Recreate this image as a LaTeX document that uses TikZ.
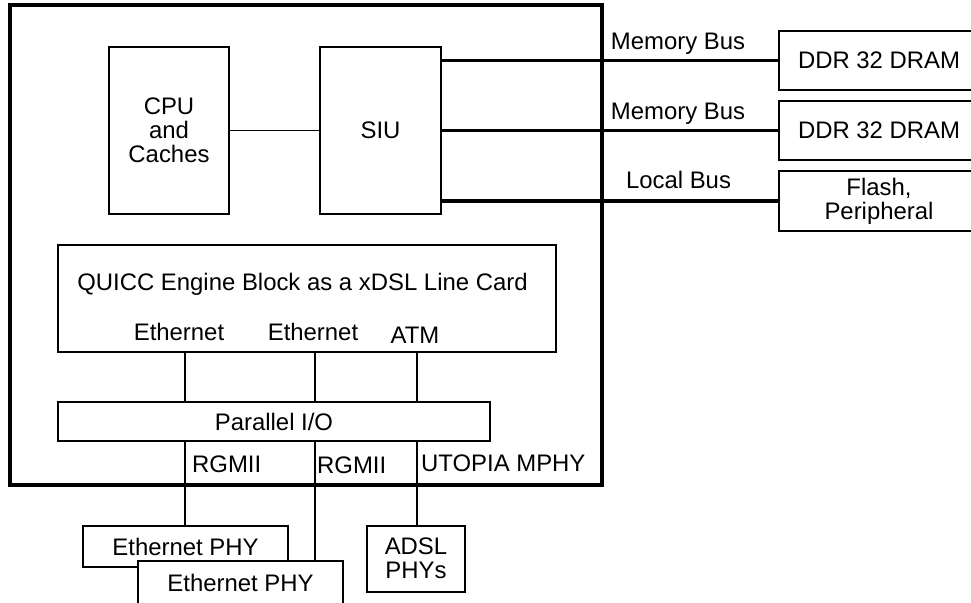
\documentclass[tikz,border=0pt]{standalone}
\usepackage{fontspec}
\setmainfont{Liberation Sans}
\begin{document}
\begin{tikzpicture}[x=1pt,y=-1pt,
  every node/.style={font=\fontsize{23.9}{24}\selectfont, inner sep=0pt},
  blk/.style={draw, line width=1.6pt, rectangle, fill=white, align=center},
  thinline/.style={line width=1.6pt},
  bus/.style={line width=3.2pt},
  lbl/.style={anchor=base},
  lblw/.style={anchor=base west}
]
\useasboundingbox (0,0) rectangle (971,602);
\fill[white] (0,0) rectangle (971,602);
\clip (0,0) rectangle (971,602);

% outer chip box
\node[draw, line width=3.2pt, minimum width=592pt, minimum height=480pt] (outer) at (306,245) {};

% blocks
\node[blk, minimum width=120pt, minimum height=167pt] (cpu) at (169,130.5) {CPU\\and\\Caches};
\node[blk, minimum width=121pt, minimum height=167pt] (siu) at (380.5,130.5) {SIU};
\node[blk, minimum width=498pt, minimum height=107pt] (qe) at (307,298.5) {};
\node[blk, minimum width=432pt, minimum height=39.5pt] (pio) at (274,421.5) {Parallel I/O};
\node[blk, minimum width=200pt, minimum height=59pt] (ddr1) at (879,60.5) {DDR 32 DRAM};
\node[blk, minimum width=200pt, minimum height=59pt] (ddr2) at (879,130.5) {DDR 32 DRAM};
\node[blk, minimum width=200pt, minimum height=60pt] (flash) at (879,201) {Flash,\\Peripheral};
\node[blk, minimum width=205pt, minimum height=41pt] (eph1) at (185.5,546.5) {Ethernet PHY};
\node[blk, minimum width=205pt, minimum height=44pt] (eph2) at (240.5,583) {Ethernet PHY};
\node[blk, minimum width=98pt, minimum height=66pt] (adsl) at (416,558.7) {ADSL\\PHYs};

% texts in QUICC Engine block
\node[lbl] (qetitle) at (302.5,290.5) {QUICC Engine Block as a xDSL Line Card};
\node[lbl] (eth1) at (179,340.5) {Ethernet};
\node[lbl] (eth2) at (313,340.5) {Ethernet};
\node[lbl] (atm) at (415,343.5) {ATM};

% bus labels
\node[lbl] (mb1) at (678,49) {Memory Bus};
\node[lbl] (mb2) at (678,119) {Memory Bus};
\node[lbl] (lb) at (678.5,188.5) {Local Bus};

% interface labels
\node[lblw] (rg1) at (192,472.5) {RGMII};
\node[lblw] (rg2) at (317,473) {RGMII};
\node[lblw] (uto) at (421,471.5) {UTOPIA MPHY};

% column coordinates
\coordinate (c1) at (185,0);
\coordinate (c2) at (315,0);
\coordinate (c3) at (417,0);

% connectors
\draw[thinline] (cpu) -- (siu);
\draw[bus] (siu.east |- ddr1.west) -- (ddr1.west);
\draw[bus] (siu.east |- ddr2.west) -- (ddr2.west);
\draw[bus] (siu.east |- flash.west) -- (flash.west);

\draw[thinline] (qe.south -| c1) -- (pio.north -| c1);
\draw[thinline] (qe.south -| c2) -- (pio.north -| c2);
\draw[thinline] (qe.south -| c3) -- (pio.north -| c3);

\draw[thinline] (pio.south -| c1) -- (eph1.north -| c1);
\draw[thinline] (pio.south -| c2) -- (eph2.north -| c2);
\draw[thinline] (pio.south -| c3) -- (adsl.north -| c3);
\end{tikzpicture}
\end{document}
